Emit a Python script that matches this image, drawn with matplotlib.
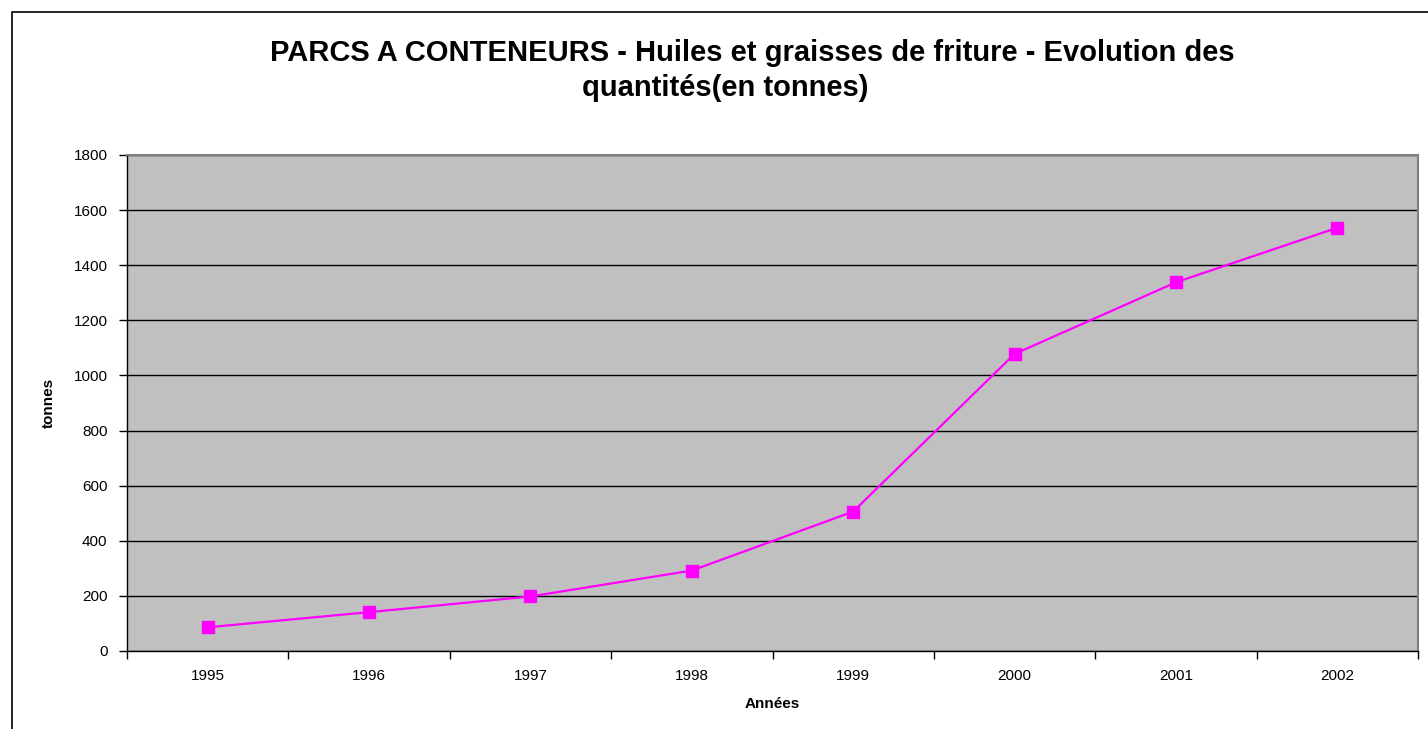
import matplotlib.pyplot as plt
import numpy as np
from matplotlib.patches import Rectangle

# data
years = ["1995", "1996", "1997", "1998", "1999", "2000", "2001", "2002"]
tonnes = [86, 141, 198, 292, 506, 1078, 1338, 1536]
y_ticks = [0, 200, 400, 600, 800, 1000, 1200, 1400, 1600, 1800]

plt.rcParams["font.family"] = ["Liberation Sans", "DejaVu Sans"]

fig = plt.figure(figsize=(14.28, 7.29), dpi=100)

# chart frame (Excel style border)
fig.patches.append(Rectangle(
    (12 / 1428, -0.1), 1.2, 1 - 12 / 729 + 0.1,
    transform=fig.transFigure, fill=False, edgecolor="black", linewidth=1.2
))

ax = fig.add_axes([127 / 1428, 78 / 729, 1291 / 1428, 496 / 729])
ax.set_facecolor("#C0C0C0")

x = np.arange(1, len(years) + 1)
ax.plot(
    x, tonnes, color="#FF00FF", linewidth=1.6,
    marker="s", markersize=9, markeredgecolor="#FF00FF", zorder=3
)

ax.set_xlim(0.5, len(years) + 0.5)
ax.set_ylim(0, 1800)

# ticks between categories, labels at the centres
ax.set_xticks(np.arange(0.5, len(years) + 1, 1))
ax.set_xticklabels([])
ax.set_xticks(x, minor=True)
ax.set_xticklabels(years, minor=True, fontsize=11)
ax.tick_params(axis="x", which="major", direction="out", length=6, width=1)
ax.tick_params(axis="x", which="minor", length=0, pad=13)

ax.set_yticks(y_ticks)
ax.set_yticklabels([str(v) for v in y_ticks], fontsize=11)
ax.tick_params(axis="y", direction="out", length=6, width=1, pad=8)

ax.yaxis.grid(True, color="black", linewidth=1)
ax.set_axisbelow(True)

for side in ["top", "right"]:
    ax.spines[side].set_color("#808080")
    ax.spines[side].set_linewidth(1.5)
for side in ["left", "bottom"]:
    ax.spines[side].set_color("black")
    ax.spines[side].set_linewidth(1)

ax.set_xlabel("Années", fontsize=11, fontweight="bold", labelpad=10)
ax.set_ylabel("tonnes", fontsize=11, fontweight="bold", labelpad=13)

fig.text(
    0.527, 1 - 53 / 729,
    "PARCS A CONTENEURS - Huiles et graisses de friture - Evolution des",
    ha="center", va="center", fontsize=21, fontweight="bold"
)
fig.text(
    0.508, 1 - 88 / 729, "quantités(en tonnes)",
    ha="center", va="center", fontsize=21, fontweight="bold"
)

fig.savefig("out.png", dpi=100)
